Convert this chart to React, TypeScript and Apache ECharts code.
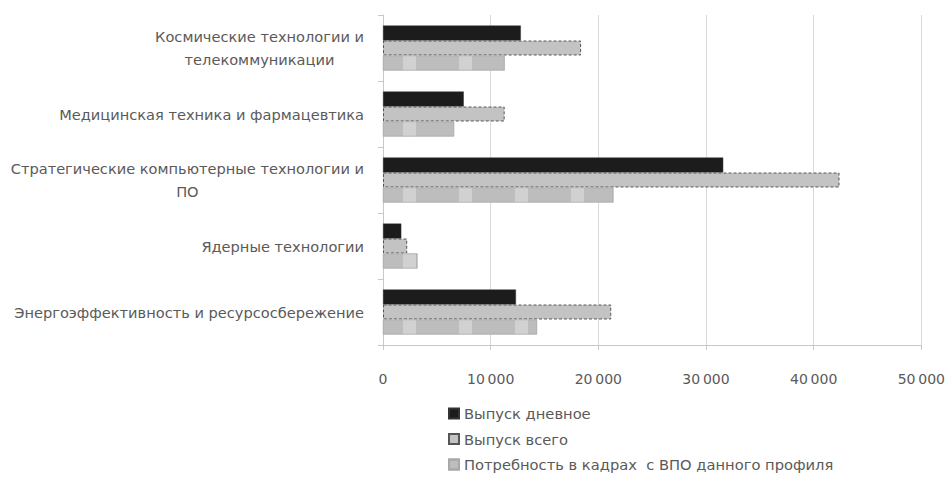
import React, { useEffect, useRef } from "react";
import * as echarts from "echarts";

const categories = [
  "Космические технологии и\nтелекоммуникации",
  "Медицинская техника и фармацевтика",
  "Стратегические компьютерные технологии и\nПО",
  "Ядерные технологии",
  "Энергоэффективность и ресурсосбережение",
];
const seriesNames = [
  "Выпуск дневное",
  "Выпуск всего",
  "Потребность в кадрах  с ВПО данного профиля",
];
const dayGrad = [12800, 7500, 31600, 1700, 12350];
const totalGrad = [18400, 11300, 42400, 2250, 21200];
const demand = [11300, 6600, 21400, 3200, 14300];
const xTicks = [0, 10000, 20000, 30000, 40000, 50000];

export default function App() {
  const ref = useRef<HTMLDivElement>(null);
  useEffect(() => {
    const chart = echarts.init(ref.current!, null, { renderer: "svg" });
    const font = "'DejaVu Sans', 'Open Sans', sans-serif";
    const txt = "#5a5a5a";
    chart.setOption({
      animation: false,
      backgroundColor: "#ffffff",
      textStyle: { fontFamily: font },
      grid: { left: 383, right: 24, top: 15, bottom: 138, containLabel: false },
      legend: {
        orient: "vertical",
        left: 443,
        top: 401,
        itemWidth: 10,
        itemHeight: 10,
        itemGap: 10.5,
        icon: "rect",
        textStyle: { fontSize: 14.7, color: txt, fontFamily: font },
        data: seriesNames,
      },
      xAxis: {
        type: "value",
        min: xTicks[0],
        max: xTicks[xTicks.length - 1],
        interval: 10000,
        axisLine: { show: true, lineStyle: { color: "#c8c8c8" } },
        axisTick: { show: true, length: 5, lineStyle: { color: "#c8c8c8" } },
        splitLine: { show: true, lineStyle: { color: "#d9d9d9" } },
        axisLabel: {
          margin: 27,
          fontSize: 14,
          color: txt,
          formatter: (v: number) =>
            String(v).replace(/\B(?=(\d{3})+(?!\d))/g, "\u2009"),
        },
      },
      yAxis: {
        type: "category",
        inverse: true,
        data: categories,
        axisLine: { show: true, lineStyle: { color: "#c8c8c8" } },
        axisTick: { show: true, length: 5, lineStyle: { color: "#c8c8c8" } },
        axisLabel: {
          margin: 19,
          fontSize: 14.6,
          color: txt,
          lineHeight: 23,
          formatter: (v: string) =>
            v
              .split("\n")
              .map((l) => `{c|${l}}`)
              .join("\n"),
          rich: {
            c: { align: "center", fontSize: 14.6, color: txt, lineHeight: 23, fontFamily: font },
          },
        },
      },
      series: [
        {
          name: seriesNames[0],
          type: "bar",
          data: dayGrad,
          barGap: "0%",
          barCategoryGap: "32%",
          itemStyle: { color: "#1c1c1c", borderColor: "#333", borderWidth: 0.5 },
        },
        {
          name: seriesNames[1],
          type: "bar",
          data: totalGrad,
          barGap: "0%",
          barCategoryGap: "32%",
          itemStyle: {
            color: "#c3c3c3",
            borderColor: "#555",
            borderWidth: 1,
            borderType: [3, 2],
          },
        },
        {
          name: seriesNames[2],
          type: "bar",
          data: demand,
          barGap: "0%",
          barCategoryGap: "32%",
          itemStyle: {
            color: "#bdbdbd",
            borderColor: "#a8a8a8",
            borderWidth: 0.5,
            decal: {
              symbol: "rect",
              color: "rgba(255,255,255,0.3)",
              dashArrayX: [[0, 11, 13, 32]],
              dashArrayY: [20, 0],
              symbolSize: 1,
              rotation: 0,
            },
          },
        },
      ],
    });
    return () => chart.dispose();
  }, []);
  return (
    <div
      ref={ref}
      style={{ position: "fixed", left: 0, top: 0, width: 948, height: 483, background: "#fff" }}
    />
  );
}
